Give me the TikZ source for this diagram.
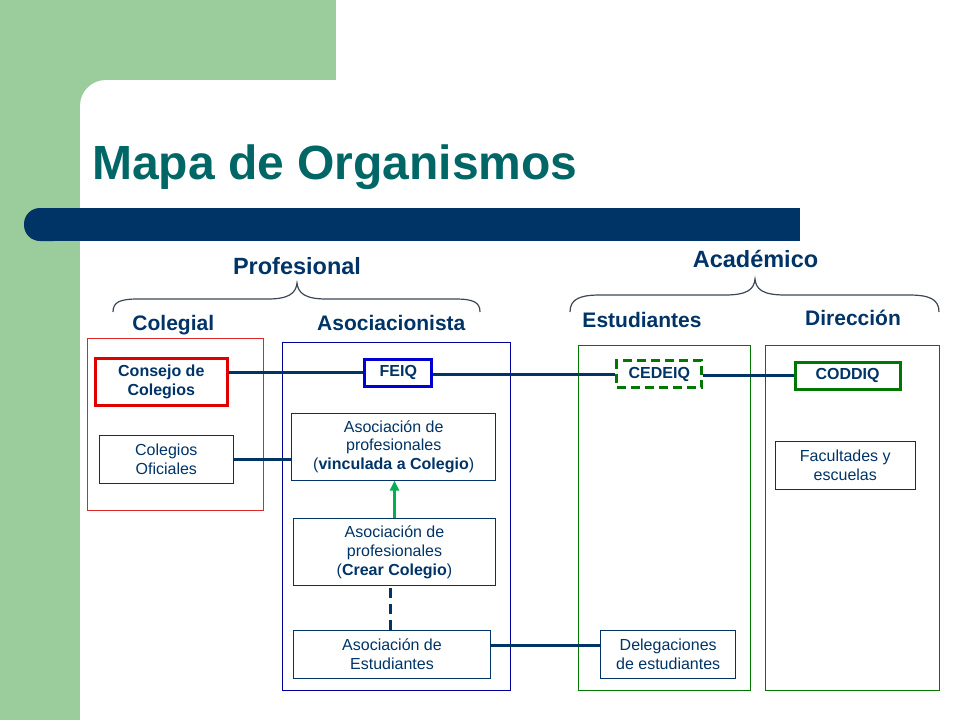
\documentclass[tikz,border=0pt]{standalone}
\usepackage{fontspec}
\setmainfont{Liberation Sans}
\usetikzlibrary{arrows.meta}
\definecolor{bggreen}{RGB}{155,204,155}
\definecolor{navy}{RGB}{0,51,102}
\definecolor{titleteal}{RGB}{0,102,102}
\definecolor{boxred}{RGB}{225,0,0}
\definecolor{thinred}{RGB}{220,40,40}
\definecolor{boxblue}{RGB}{0,0,210}
\definecolor{thinblue}{RGB}{0,0,150}
\definecolor{darkgreen}{RGB}{0,120,0}
\definecolor{arrowgreen}{RGB}{0,176,80}
\definecolor{bracegray}{RGB}{60,70,85}
\tikzset{
  heading/.style={anchor=base, inner sep=0pt, text=navy, font=\fontsize{23.5}{28}\selectfont\bfseries},
  subheading/.style={anchor=base, inner sep=0pt, text=navy, font=\fontsize{21}{25}\selectfont\bfseries},
  plainbox/.style={draw=navy, line width=1pt, inner sep=0pt, align=center, text=navy,
    font=\fontsize{16}{18.8}\selectfont},
  keybox/.style={inner sep=0pt, align=center, text=navy, line width=3pt,
    font=\fontsize{16}{18.7}\selectfont\bfseries},
  container/.style={line width=1pt},
  conn/.style={draw=navy, line width=3pt},
  bracestyle/.style={draw=bracegray, line width=1.2pt},
}
\begin{document}
\begin{tikzpicture}[x=1pt,y=-1pt]
\useasboundingbox (0,0) rectangle (960,720);
% background
\fill[bggreen] (0,0) rectangle (336,80);
\fill[bggreen] (0,0) rectangle (80,720);
\fill[bggreen] (80,80) rectangle (106,106);
\fill[white] (106,106) circle (26pt);
% bar
\fill[navy, rounded corners=16pt] (24,208) rectangle (70,241);
\fill[navy] (50,208) rectangle (800,241);
% title
\node[anchor=base west, inner sep=0pt, text=titleteal, font=\fontsize{48}{58}\selectfont\bfseries] (title) at (92,179) {Mapa de Organismos};
% headings
\node[heading] (prof) at (297,274) {Profesional};
\node[heading] (acad) at (755.5,267) {Académico};
\node[subheading] (coleg) at (173.3,330) {Colegial};
\node[subheading] (asoc) at (391.3,330) {Asociacionista};
\node[subheading] (estud) at (642,327) {Estudiantes};
\node[subheading] (direc) at (853,325) {Dirección};
% braces
\draw[bracestyle] (113,312) .. controls (113,302) and (120,299) .. (138,299) -- (268,299)
  .. controls (289,299) and (296,293) .. (297,283)
  .. controls (298,293) and (305,299) .. (326,299) -- (455,299)
  .. controls (473,299) and (480,302) .. (480,312);
\draw[bracestyle] (570,312) .. controls (570,299) and (580,295) .. (600,295) -- (725,295)
  .. controls (748,295) and (754,289) .. (755,279)
  .. controls (756,289) and (762,295) .. (785,295) -- (909,295)
  .. controls (929,295) and (939,299) .. (939,312);
% containers
\draw[container, draw=thinred] (87.3,338.3) rectangle (263.3,510);
\draw[container, draw=thinblue] (282.7,342.7) rectangle (510.7,690);
\draw[container, draw=darkgreen] (578.3,345.7) rectangle (750.7,690);
\draw[container, draw=darkgreen] (765.7,345.7) rectangle (939.3,690);
% key boxes
\node[keybox, draw=boxred, minimum width=132pt, minimum height=47pt] (consejo) at (161.3,381.7) {Consejo de\\Colegios};
\node[keybox, draw=boxblue, minimum width=67pt, minimum height=27pt] (feiq) at (398.3,372.7) {FEIQ};
\node[keybox, draw=darkgreen, dash pattern=on 9pt off 5pt, minimum width=85pt, minimum height=27pt] (cedeiq) at (659.3,374.3) {CEDEIQ};
\node[keybox, draw=darkgreen, minimum width=105pt, minimum height=27pt] (coddiq) at (847.5,375.7) {CODDIQ};
% plain boxes
\node[plainbox, minimum width=134pt, minimum height=47.6pt] (oficiales) at (166.3,459.5) {Colegios\\Oficiales};
\node[plainbox, minimum width=204pt, minimum height=66.7pt] (vinculada) at (393.7,446.7) {Asociación de\\profesionales\\(\textbf{vinculada a Colegio})};
\node[plainbox, minimum width=202.4pt, minimum height=67.4pt] (crear) at (394.5,552) {Asociación de\\profesionales\\(\textbf{Crear Colegio})};
\node[plainbox, minimum width=197.4pt, minimum height=47.6pt] (asocest) at (392,654.5) {Asociación de\\Estudiantes};
\node[plainbox, minimum width=135pt, minimum height=47.6pt] (deleg) at (668.2,654.5) {Delegaciones\\de estudiantes};
\node[plainbox, minimum width=140pt, minimum height=48pt] (facul) at (845.3,465.3) {Facultades y\\escuelas};
% connectors
\draw[conn] (consejo.east |- feiq.west) -- (feiq.west);
\draw[conn] ([yshift=-1.5pt]feiq.east) -- ([yshift=-1.5pt]feiq.east -| cedeiq.west);
\draw[conn] ([yshift=-0.7pt]cedeiq.east) -- ([yshift=-0.7pt]cedeiq.east -| coddiq.west);
\draw[conn] (oficiales.east) -- (oficiales.east -| vinculada.west);
\draw[conn] ([yshift=9.5pt]asocest.east) -- ([yshift=9.5pt]deleg.west);
\draw[conn, dash pattern=on 10pt off 6pt] ([xshift=-1.3pt]asocest.north) -- ([xshift=-1.3pt]asocest.north |- crear.south);
\draw[draw=arrowgreen, line width=3pt, -{Triangle[width=9pt,length=10pt]}] (crear.north) -- (crear.north |- vinculada.south);
\end{tikzpicture}
\end{document}
